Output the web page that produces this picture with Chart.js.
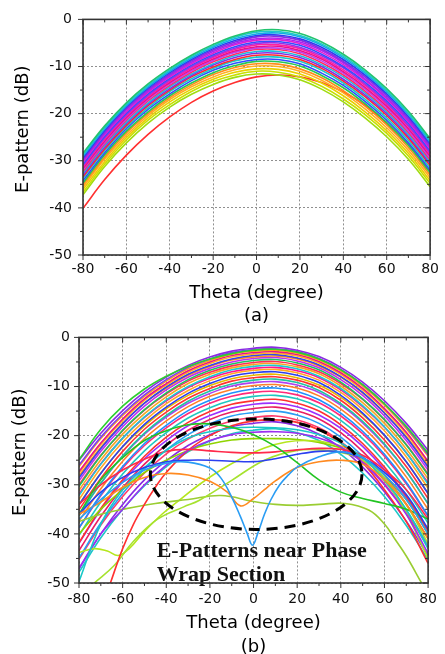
<!DOCTYPE html>
<html lang="en">
<head>
<meta charset="UTF-8">
<title>E-pattern</title>
<style>
  html, body { margin: 0; padding: 0; background: #fff; overflow: hidden; }
  canvas { position: absolute; left: 0; }
  #chartA { top: 0; }
  #chartB { top: 320px; }
</style>
</head>
<body>
<canvas id="chartA" width="445" height="330"></canvas>
<canvas id="chartB" width="445" height="334"></canvas>

<script src="https://cdn.jsdelivr.net/npm/chart.js@4.4.1/dist/chart.umd.min.js"></script>
<script>
// axis ticks
const thetaTicks = [-80, -60, -40, -20, 0, 20, 40, 60, 80];
const dbTicks = [-50, -40, -30, -20, -10, 0];

// both plots are sampled every 10 degrees
const theta = [-80, -70, -60, -50, -40, -30, -20, -10, 0, 10, 20, 30, 40, 50, 60, 70, 80];

// (a) all elements
const patternsA = [
    [-28.4, -22.6, -17.7, -13.7, -10.4, -7.6, -5.3, -3.5, -2.4, -2.2, -3.0, -4.8, -7.4, -10.7, -14.7, -19.5, -25.3],
    [-28.7, -22.9, -18.0, -14.0, -10.7, -7.9, -5.6, -3.8, -2.7, -2.6, -3.4, -5.2, -7.8, -11.1, -15.1, -19.9, -25.7],
    [-29.0, -23.2, -18.3, -14.3, -11.0, -8.2, -5.9, -4.1, -3.1, -2.9, -3.7, -5.5, -8.1, -11.4, -15.4, -20.2, -26.0],
    [-29.4, -23.6, -18.6, -14.6, -11.3, -8.5, -6.2, -4.5, -3.4, -3.3, -4.1, -5.9, -8.5, -11.8, -15.8, -20.6, -26.4],
    [-29.7, -23.9, -18.9, -14.9, -11.6, -8.8, -6.5, -4.8, -3.7, -3.6, -4.4, -6.3, -8.9, -12.2, -16.2, -21.0, -26.8],
    [-30.0, -24.2, -19.2, -15.2, -11.9, -9.1, -6.8, -5.1, -4.1, -4.0, -4.8, -6.6, -9.2, -12.6, -16.6, -21.4, -27.2],
    [-30.3, -24.5, -19.6, -15.5, -12.2, -9.4, -7.2, -5.4, -4.4, -4.3, -5.1, -7.0, -9.6, -12.9, -16.9, -21.7, -27.5],
    [-30.7, -24.8, -19.9, -15.8, -12.5, -9.7, -7.5, -5.8, -4.8, -4.7, -5.5, -7.4, -10.0, -13.3, -17.3, -22.1, -27.9],
    [-31.0, -25.1, -20.2, -16.1, -12.8, -10.0, -7.8, -6.1, -5.1, -5.0, -5.9, -7.7, -10.3, -13.7, -17.7, -22.5, -28.3],
    [-31.3, -25.4, -20.5, -16.4, -13.1, -10.3, -8.1, -6.4, -5.4, -5.4, -6.2, -8.1, -10.7, -14.0, -18.0, -22.8, -28.6],
    [-31.6, -25.8, -20.8, -16.7, -13.4, -10.6, -8.4, -6.7, -5.8, -5.7, -6.6, -8.4, -11.1, -14.4, -18.4, -23.2, -29.0],
    [-31.9, -26.1, -21.1, -17.0, -13.7, -10.9, -8.7, -7.0, -6.1, -6.1, -6.9, -8.8, -11.4, -14.8, -18.8, -23.6, -29.4],
    [-32.3, -26.4, -21.4, -17.3, -14.0, -11.2, -9.0, -7.4, -6.4, -6.4, -7.3, -9.2, -11.8, -15.2, -19.2, -24.0, -29.8],
    [-32.6, -26.7, -21.8, -17.7, -14.3, -11.6, -9.4, -7.7, -6.8, -6.8, -7.7, -9.6, -12.2, -15.6, -19.6, -24.4, -30.2],
    [-33.0, -27.1, -22.1, -18.0, -14.7, -11.9, -9.7, -8.1, -7.2, -7.2, -8.1, -10.0, -12.7, -16.0, -20.0, -24.8, -30.6],
    [-33.4, -27.5, -22.5, -18.3, -15.0, -12.2, -10.1, -8.5, -7.6, -7.6, -8.5, -10.4, -13.1, -16.4, -20.4, -25.2, -31.0],
    [-33.7, -27.8, -22.8, -18.7, -15.3, -12.6, -10.4, -8.8, -8.0, -8.0, -8.9, -10.8, -13.5, -16.9, -20.9, -25.7, -31.5],
    [-34.2, -28.3, -23.2, -19.1, -15.8, -13.0, -10.8, -9.3, -8.5, -8.5, -9.4, -11.4, -14.0, -17.4, -21.4, -26.2, -32.0],
    [-34.7, -28.7, -23.7, -19.6, -16.2, -13.5, -11.3, -9.8, -8.9, -9.0, -9.9, -11.9, -14.5, -17.9, -21.9, -26.7, -32.5],
    [-35.1, -29.2, -24.1, -20.0, -16.6, -13.9, -11.7, -10.2, -9.4, -9.5, -10.5, -12.4, -15.1, -18.4, -22.4, -27.2, -33.0],
    [-35.6, -29.6, -24.6, -20.4, -17.0, -14.3, -12.2, -10.7, -9.9, -10.0, -11.0, -12.9, -15.6, -19.0, -23.0, -27.8, -33.6],
    [-36.1, -30.2, -25.1, -20.9, -17.5, -14.8, -12.7, -11.2, -10.5, -10.6, -11.6, -13.5, -16.2, -19.6, -23.6, -28.4, -34.2],
    [-36.7, -30.7, -25.6, -21.4, -18.1, -15.3, -13.2, -11.8, -11.0, -11.2, -12.2, -14.2, -16.9, -20.2, -24.2, -29.0, -34.8],
    [-37.2, -31.2, -26.2, -22.0, -18.6, -15.9, -13.8, -12.3, -11.6, -11.8, -12.8, -14.8, -17.5, -20.9, -24.9, -29.7, -35.5],
    [-40.1, -34.0, -28.8, -24.4, -20.7, -17.6, -15.2, -13.4, -12.2, -11.8, -12.2, -13.4, -15.4, -18.2, -22.0, -26.6, -32.3]
];
const coloursA = [
    '#22c46e', '#1ec8c8', '#12a8e8', '#2f3cf0', '#8a2be2', '#b020f0', '#e020d0',
    '#3050ff', '#9a30e8', '#ff20a0', '#e8108a', '#c040f0', '#ff3060', '#20b8e0',
    '#8a2be2', '#ff2a2a', '#1ec8c8', '#3050ff', '#28c850', '#ff8c1a', '#ffb020',
    '#e8d000', '#c8e000', '#a0dc10', '#ff3030'
];

// (b) regular elements
const patternsB = [
    [-24.9, -18.7, -14.0, -10.5, -7.9, -5.9, -4.4, -3.3, -2.6, -2.4, -3.0, -4.4, -6.6, -9.6, -13.5, -18.1, -23.6],
    [-25.0, -19.5, -14.9, -11.1, -8.1, -5.7, -4.0, -2.8, -2.2, -2.0, -2.6, -3.9, -6.1, -9.1, -12.9, -17.5, -23.0],
    [-26.0, -20.3, -15.6, -11.7, -8.6, -6.1, -4.4, -3.1, -2.5, -2.3, -2.9, -4.3, -6.5, -9.6, -13.5, -18.3, -23.9],
    [-26.3, -20.6, -15.9, -12.0, -8.9, -6.4, -4.7, -3.4, -2.8, -2.6, -3.2, -4.6, -6.8, -9.9, -13.8, -18.6, -24.2],
    [-27.3, -21.5, -16.6, -12.5, -9.4, -6.8, -5.0, -3.7, -3.1, -2.9, -3.5, -4.9, -7.2, -10.4, -14.5, -19.3, -25.2],
    [-27.6, -21.8, -16.9, -12.8, -9.7, -7.1, -5.3, -4.0, -3.4, -3.2, -3.8, -5.2, -7.5, -10.7, -14.8, -19.6, -25.5],
    [-28.6, -22.6, -17.6, -13.4, -10.1, -7.5, -5.7, -4.4, -3.7, -3.5, -4.2, -5.6, -8.0, -11.2, -15.4, -20.4, -26.4],
    [-28.2, -22.4, -17.5, -13.4, -10.3, -7.7, -5.9, -4.6, -4.0, -3.8, -4.4, -5.8, -8.1, -11.3, -15.4, -20.2, -26.1],
    [-29.2, -23.2, -18.2, -14.0, -10.7, -8.1, -6.3, -5.0, -4.3, -4.1, -4.8, -6.2, -8.6, -11.8, -16.0, -21.0, -27.0],
    [-30.3, -24.1, -18.9, -14.7, -11.3, -8.6, -6.7, -5.4, -4.7, -4.5, -5.2, -6.6, -9.1, -12.5, -16.7, -21.9, -28.0],
    [-30.0, -24.0, -19.0, -14.8, -11.5, -8.9, -7.1, -5.8, -5.1, -4.9, -5.6, -7.0, -9.4, -12.6, -16.8, -21.8, -27.8],
    [-31.1, -24.9, -19.7, -15.5, -12.1, -9.4, -7.5, -6.2, -5.5, -5.3, -6.0, -7.4, -9.9, -13.3, -17.5, -22.7, -28.8],
    [-32.2, -25.8, -20.5, -16.2, -12.7, -10.0, -8.0, -6.6, -5.9, -5.7, -6.4, -7.9, -10.4, -13.9, -18.2, -23.5, -29.9],
    [-31.9, -25.7, -20.5, -16.3, -12.9, -10.2, -8.3, -7.0, -6.3, -6.1, -6.8, -8.2, -10.7, -14.1, -18.3, -23.5, -29.6],
    [-33.0, -26.6, -21.3, -17.0, -13.5, -10.8, -8.8, -7.4, -6.7, -6.5, -7.2, -8.7, -11.2, -14.7, -19.0, -24.3, -30.7],
    [-34.1, -27.7, -22.2, -17.7, -14.2, -11.4, -9.4, -7.9, -7.2, -7.0, -7.7, -9.2, -11.8, -15.4, -19.9, -25.3, -31.8],
    [-34.0, -27.6, -22.3, -18.0, -14.5, -11.8, -9.8, -8.4, -7.7, -7.5, -8.2, -9.7, -12.2, -15.7, -20.0, -25.3, -31.7],
    [-35.1, -28.7, -23.2, -18.7, -15.2, -12.4, -10.4, -8.9, -8.2, -8.0, -8.7, -10.2, -12.8, -16.4, -20.9, -26.3, -32.8],
    [-36.3, -29.7, -24.1, -19.5, -15.9, -13.0, -10.9, -9.5, -8.7, -8.5, -9.2, -10.8, -13.5, -17.1, -21.7, -27.3, -33.9],
    [-36.1, -29.7, -24.2, -19.7, -16.2, -13.4, -11.4, -9.9, -9.2, -9.0, -9.7, -11.2, -13.8, -17.4, -21.9, -27.3, -33.8],
    [-37.4, -30.8, -25.2, -20.6, -17.0, -14.1, -12.0, -10.6, -9.8, -9.6, -10.3, -11.9, -14.6, -18.2, -22.8, -28.4, -35.0],
    [-38.8, -32.0, -26.3, -21.6, -17.9, -14.9, -12.8, -11.3, -10.5, -10.3, -11.0, -12.7, -15.4, -19.1, -23.8, -29.5, -36.3],
    [-38.8, -32.2, -26.6, -22.0, -18.4, -15.5, -13.4, -12.0, -11.2, -11.0, -11.7, -13.3, -16.0, -19.6, -24.2, -29.8, -36.4],
    [-40.3, -33.5, -27.8, -23.1, -19.4, -16.4, -14.3, -12.8, -12.0, -11.8, -12.5, -14.2, -16.9, -20.6, -25.3, -31.0, -37.8],
    [-41.8, -34.8, -29.0, -24.2, -20.3, -17.3, -15.1, -13.6, -12.9, -12.6, -13.4, -15.0, -17.8, -21.6, -26.4, -32.3, -39.3],
    [-41.9, -35.1, -29.4, -24.7, -21.0, -18.0, -15.9, -14.4, -13.6, -13.4, -14.1, -15.8, -18.5, -22.2, -26.9, -32.6, -39.4],
    [-43.4, -36.4, -30.6, -25.8, -21.9, -18.9, -16.7, -15.2, -14.5, -14.2, -15.0, -16.6, -19.4, -23.2, -28.0, -33.9, -40.9],
    [-44.9, -37.8, -31.8, -26.8, -22.9, -19.8, -17.6, -16.0, -15.3, -15.0, -15.8, -17.5, -20.3, -24.2, -29.2, -35.2, -42.3],
    [-45.2, -38.2, -32.4, -27.6, -23.7, -20.7, -18.5, -17.0, -16.3, -16.0, -16.8, -18.4, -21.2, -25.0, -29.8, -35.7, -42.7],
    [-47.1, -40.0, -34.0, -29.0, -25.1, -22.0, -19.8, -18.2, -17.5, -17.2, -18.0, -19.7, -22.5, -26.4, -31.4, -37.4, -44.5],
    [-47.8, -40.8, -35.0, -30.2, -26.3, -23.3, -21.1, -19.6, -18.9, -18.6, -19.4, -21.0, -23.8, -27.6, -32.4, -38.3, -45.3]
];
const coloursB = [
    '#2fcf2f', '#8a2be2', '#7b3ff2', '#ff9f1c', '#e8128c', '#ffb020', '#3344ee',
    '#ff8c1a', '#c02ff0', '#20c060', '#ff2d55', '#f5a623', '#1ec8d2', '#ff1493',
    '#ffa726', '#2b3ff0', '#e6b800', '#ff3333', '#22c3a0', '#b040f0', '#ff7f2a',
    '#1e90ff', '#ff2a7a', '#20c8c0', '#ff3030', '#9b30ff', '#e91e63', '#2a9df4',
    '#ff3b6b', '#8a2be2', '#1ec8c8'
];

// (b) elements near the phase wrap, each with its own sampling
const wrapTheta = [
    [-80, -70, -60, -50, -40, -30, -20, -15, -10, -6, -3, -0.5, 2, 5, 8, 12, 16, 20, 30, 40, 50, 60, 70, 80],
    [-80, -70, -60, -50, -40, -30, -20, -12, -6, 0, 5, 10, 20, 30, 40, 50, 60, 70, 80],
    theta, theta, theta, theta, theta,
    [-66, -60, -55, -50, -45, -40, -30, -20, -10, 0, 10, 20, 30, 40, 50, 60, 70, 80],
    [-73, -64, -55, -44, -32, -25, -10, 5, 20, 33, 45, 55, 65, 72, 80],
    [-80, -70, -60, -45, -30, -15, 0, 10, 20, 30, 42, 53, 60, 65, 70, 77],
    [-80, -73, -67, -62, -57, -50, -42, -35, -25, -15, -5, 5, 15, 25, 35, 45, 55, 65, 72, 80],
    theta
];
const wrapPatterns = [
    [-37, -33, -29.5, -27, -25.6, -25.4, -26.6, -28.6, -32.5, -36.5, -39.8, -42.3, -39.8, -36, -33, -30, -28, -26.4, -24.3, -23.3, -24.5, -28, -33, -40],
    [-36, -33.5, -30.5, -28.5, -27.7, -28, -29.3, -31.5, -34.3, -32.8, -31, -29.2, -26.5, -25.3, -25, -25.8, -29, -34, -41],
    [-36, -31.5, -28.5, -26.5, -25.3, -25.0, -25.0, -25.2, -25.3, -24.7, -23.8, -23.2, -23.3, -24.5, -27.5, -32, -39],
    [-36, -29, -24.5, -21, -19, -17.8, -17.6, -18.3, -19.8, -22.2, -25.5, -29, -31.5, -32.8, -33.8, -35, -37],
    [-49.7, -38, -31, -26.5, -23, -20.5, -19.2, -18.5, -18.3, -18.4, -18.8, -19.8, -21.5, -24.5, -29, -35, -43],
    [-34, -30, -27, -24.8, -23.2, -22.8, -23.1, -23.4, -23.5, -23.3, -22.9, -22.6, -22.8, -24, -27, -31, -37],
    [-47, -40, -35, -30, -26, -23, -21, -19.8, -19.3, -19.2, -19.5, -20.5, -22.3, -25.5, -30, -36, -44],
    [-50.5, -43, -38, -34, -30.5, -27.5, -23, -20, -18, -17, -16.8, -17.3, -18.8, -21.5, -25.5, -31, -37.5, -46],
    [-50, -46.5, -41.5, -37, -34.5, -33.2, -29.1, -25, -23, -23, -24, -26.5, -31, -35.5, -42],
    [-37.5, -36, -35, -33.8, -33, -32.2, -33.4, -34, -34.2, -34, -33.8, -35.2, -38, -41.2, -44.5, -50],
    [-43.8, -43, -43.5, -44.4, -43, -39.5, -36, -33.5, -30, -27, -24.5, -22.5, -21.3, -21, -21.5, -23, -26.5, -32, -37.5, -45],
    [-40, -35, -31, -27.5, -25, -23, -21.7, -20.9, -20.6, -20.6, -20.8, -21.4, -22.5, -24.5, -28, -33, -40]
];
const wrapColours = [
    '#2a9df4', '#ff8a20', '#2b3ff0', '#22c422', '#18c8c8', '#ff2a4a',
    '#9a2ef0', '#ff3030', '#a6e22e', '#9acd32', '#b5e61d', '#8fd400'
];

const noteLines = ['E-Patterns near Phase', 'Wrap Section'];

Chart.defaults.font.family = '"DejaVu Sans", sans-serif';

function series(xs, values) {
    return xs.map((t, i) => ({x: t, y: values[i]}));
}

function lineSet(xs, values, colour) {
    return {
        data: series(xs, values),
        borderColor: colour,
        borderWidth: 1.6,
        pointRadius: 0,
        tension: 0.4,
        fill: false
    };
}

// box round the plot with Origin style ticks: outward on left/bottom, inward on top/right
const axisFrame = {
    id: 'axisFrame',
    afterDraw(chart) {
        const {ctx, chartArea: a, scales: {x, y}} = chart;
        const seg = (x1, y1, x2, y2) => { ctx.beginPath(); ctx.moveTo(x1, y1); ctx.lineTo(x2, y2); ctx.stroke(); };
        ctx.save();
        ctx.strokeStyle = '#333';
        ctx.lineWidth = 1;
        thetaTicks.forEach((v, i) => {
            const px = x.getPixelForValue(v);
            seg(px, a.bottom, px, a.bottom + 5);
            seg(px, a.top, px, a.top + 5);
            if (i < thetaTicks.length - 1) {
                const mx = x.getPixelForValue((v + thetaTicks[i + 1]) / 2);
                seg(mx, a.bottom, mx, a.bottom + 3);
                seg(mx, a.top, mx, a.top + 3);
            }
        });
        dbTicks.forEach((v, i) => {
            const py = y.getPixelForValue(v);
            seg(a.left - 5, py, a.left, py);
            seg(a.right - 5, py, a.right, py);
            if (i < dbTicks.length - 1) {
                const my = y.getPixelForValue((v + dbTicks[i + 1]) / 2);
                seg(a.left - 3, my, a.left, my);
                seg(a.right - 3, my, a.right, my);
            }
        });
        ctx.lineWidth = 1.6;
        ctx.strokeRect(a.left, a.top, a.right - a.left, a.bottom - a.top);
        ctx.restore();
    }
};

// rotated y title, a little above the centre of the plot
const sideTitle = {
    id: 'sideTitle',
    afterDraw(chart, args, opts) {
        const {ctx, chartArea: a} = chart;
        ctx.save();
        ctx.translate(opts.x, (a.top + a.bottom) / 2 + opts.shift);
        ctx.rotate(-Math.PI / 2);
        ctx.font = '18px "DejaVu Sans"';
        ctx.fillStyle = '#000';
        ctx.textAlign = 'center';
        ctx.textBaseline = 'middle';
        ctx.fillText(opts.text, 0, 0);
        ctx.restore();
    }
};

// dashed ellipse and the caption inside plot (b)
const wrapNote = {
    id: 'wrapNote',
    afterDatasetsDraw(chart, args, o) {
        if (!o.lines) return;
        const {ctx, scales: {x, y}} = chart;
        const cx = x.getPixelForValue(o.centre[0]);
        const cy = y.getPixelForValue(o.centre[1]);
        const rx = Math.abs(x.getPixelForValue(o.centre[0] + o.radius[0]) - cx);
        const ry = Math.abs(y.getPixelForValue(o.centre[1] + o.radius[1]) - cy);
        ctx.save();
        ctx.setLineDash([11, 7]);
        ctx.lineWidth = 3;
        ctx.strokeStyle = '#000';
        ctx.beginPath();
        ctx.ellipse(cx, cy, rx, ry, 0, 0, Math.PI * 2);
        ctx.stroke();
        ctx.setLineDash([]);
        ctx.font = 'bold 22px "Liberation Serif"';
        ctx.fillStyle = '#111';
        ctx.textBaseline = 'alphabetic';
        o.lines.forEach((t, i) => {
            ctx.fillText(t, x.getPixelForValue(o.at[0]), y.getPixelForValue(o.at[1][i]));
        });
        ctx.restore();
    }
};

function makeOptions(p) {
    return {
        responsive: false,
        animation: false,
        events: [],
        layout: {padding: {top: p.top, right: p.right, left: 0, bottom: 0}},
        plugins: {
            legend: {display: false},
            tooltip: {enabled: false},
            sideTitle: {text: 'E-pattern (dB)', x: p.titleX, shift: -8},
            wrapNote: p.note || {}
        },
        scales: {
            x: {
                type: 'linear', min: -80, max: 80,
                afterBuildTicks: s => { s.ticks = thetaTicks.map(v => ({value: v})); },
                afterFit: s => { s.height = p.xHeight; },
                grid: {color: '#8f8f8f', lineWidth: 1, drawTicks: false},
                border: {display: false, dash: [2, 2]},
                ticks: {padding: p.xPad, color: '#111', font: {size: 14}, maxRotation: 0, autoSkip: false},
                title: {
                    display: true,
                    text: ['Theta (degree)', p.label],
                    color: '#000',
                    font: {size: 18, lineHeight: p.lineHeight + 'px'},
                    padding: {top: 0, bottom: p.titlePad}
                }
            },
            y: {
                type: 'linear', min: -50, max: 0,
                afterBuildTicks: s => { s.ticks = dbTicks.map(v => ({value: v})); },
                afterFit: s => { s.width = p.yWidth; },
                grid: {color: '#8f8f8f', lineWidth: 1, drawTicks: false},
                border: {display: false, dash: [2, 2]},
                ticks: {padding: p.yPad, color: '#111', font: {size: 14}}
            }
        }
    };
}

const chartA = new Chart(document.getElementById('chartA'), {
    type: 'line',
    data: {datasets: patternsA.map((v, i) => lineSet(theta, v, coloursA[i]))},
    options: makeOptions({top: 15, right: 11, yWidth: 83, xHeight: 75, xPad: 6, yPad: 11,
        label: '(a)', lineHeight: 23, titlePad: 2.5, titleX: 23}),
    plugins: [axisFrame, sideTitle]
});

const chartB = new Chart(document.getElementById('chartB'), {
    type: 'line',
    data: {
        datasets: wrapPatterns.map((v, i) => lineSet(wrapTheta[i], v, wrapColours[i]))
            .concat(patternsB.map((v, i) => lineSet(theta, v, coloursB[i])))
    },
    options: makeOptions({top: 16, right: 12, yWidth: 79, xHeight: 71, xPad: 8, yPad: 9,
        label: '(b)', lineHeight: 24, titlePad: -5, titleX: 20,
        note: {centre: [1.2, -27.85], radius: [48.5, 11.25], lines: noteLines, at: [-44.4, [-44.8, -49.5]]}}),
    plugins: [axisFrame, sideTitle, wrapNote]
});
</script>
</body>
</html>
